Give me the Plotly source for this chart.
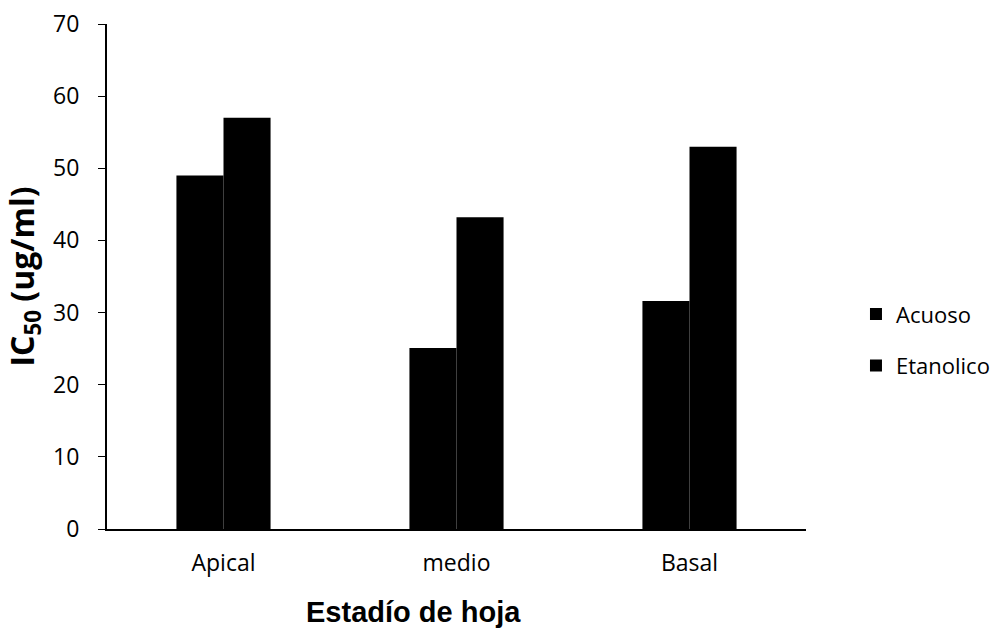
import plotly.graph_objects as go

# Leaf stage categories and IC50 values (ug/ml) for each extract
estadios = ["Apical", "medio", "Basal"]
acuoso = [49, 25.1, 31.6]
etanolico = [57, 43.2, 53.0]
y_ticks = [0, 10, 20, 30, 40, 50, 60, 70]

fig = go.Figure()
fig.add_trace(go.Bar(name="Acuoso", x=estadios, y=acuoso,
                     marker=dict(color="black", line=dict(width=0)),
                     legendgroup="a"))
fig.add_trace(go.Bar(name="Etanolico", x=estadios, y=etanolico,
                     marker=dict(color="black", line=dict(width=0)),
                     legendgroup="b"))

fig.update_layout(
    width=998, height=629,
    paper_bgcolor="white", plot_bgcolor="white",
    margin=dict(l=107, r=192, t=24, b=100, autoexpand=False),
    barmode="group", bargap=0.596, bargroupgap=0,
    font=dict(family="Open Sans, sans-serif", size=22, color="black"),
    legend=dict(x=1.0715, y=0.374, xanchor="left", yanchor="middle",
                font=dict(size=22, family="Open Sans, sans-serif"),
                tracegroupgap=20, itemwidth=30),
    xaxis=dict(showline=True, linecolor="black", linewidth=1.5,
               automargin=False,
               ticks="", tickfont=dict(size=23), ticklabelstandoff=13),
    yaxis=dict(range=[0, 70], tickvals=y_ticks, showline=True, linecolor="black",
               linewidth=2, ticks="outside", ticklen=7, tickcolor="black",
               automargin=False,
               showgrid=False, zeroline=False, tickfont=dict(size=23),
               ticklabelstandoff=14,
               title=dict(text="IC<sub>50</sub> (ug/ml)", standoff=10,
                          font=dict(family="Open Sans, sans-serif", size=32,
                                    weight="bold"))),
    showlegend=True,
)

# Category axis title, placed below the tick labels
fig.add_annotation(text="<b>Estadío de hoja</b>", xref="paper", yref="paper",
                   x=0.4378, y=-0.164, xanchor="center", yanchor="middle",
                   showarrow=False,
                   font=dict(family="Liberation Sans, Arial", size=29,
                             color="black"))

fig.write_html("out.html")
